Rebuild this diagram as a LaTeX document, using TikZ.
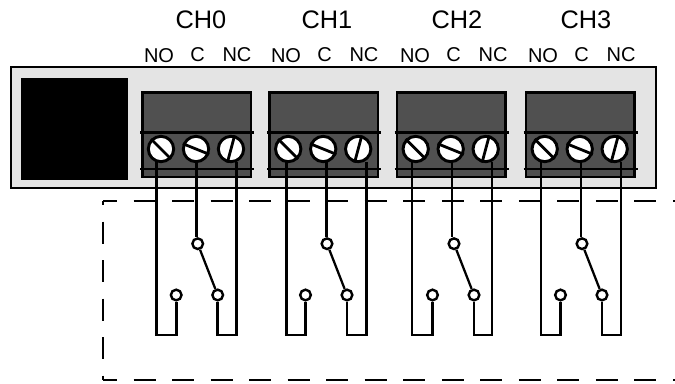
\documentclass[tikz,border=0pt]{standalone}
\usepackage{fontspec}
\setmainfont{Liberation Sans}
\usepackage{xcolor}
\definecolor{panelgray}{HTML}{E4E4E4}
\definecolor{blockgray}{HTML}{505050}
\tikzset{
    panel/.style={draw, fill=panelgray, line width=1.5pt, rectangle, inner sep=0pt, minimum width=484pt, minimum height=91pt},
    relaybox/.style={fill=black, rectangle, inner sep=0pt, minimum width=80pt, minimum height=76.5pt},
    terminal/.style={draw, fill=blockgray, line width=2pt, rectangle, inner sep=0pt, minimum width=81.5pt, minimum height=63.5pt},
    screw/.style={circle, draw, fill=white, line width=2.2pt, inner sep=0pt, minimum size=19pt},
    contact/.style={circle, draw, fill=white, line width=1.8pt, inner sep=0pt, minimum size=8pt},
    wire/.style={line width=2.1pt},
    arm/.style={line width=1.7pt},
    boundary/.style={line width=1.2pt, dash pattern=on 16.5pt off 12.4pt},
    chlabel/.style={font=\fontsize{19}{21}\selectfont, inner sep=0pt},
    pinlabel/.style={font=\fontsize{15}{17}\selectfont, inner sep=0pt}
}
\begin{document}
\begin{tikzpicture}[x=0.75pt, y=-0.75pt]
        \useasboundingbox (0, 0) rectangle (675, 383);
        % Draw the panel
        \node [panel] (board) at (333.5, 127.8) {};
        \node [relaybox] (relay) at (74.5, 129) {};
        % Dashed boundary
        \coordinate (cornerA) at (103, 201);
        \coordinate (cornerB) at (103, 380);
        \coordinate (endA) at (675, 201);
        \coordinate (endB) at (675, 380);
        \draw [boundary, dash phase=6pt] (cornerA) -- (endA);
        \draw [boundary, dash phase=6pt] (cornerB) -- (endB);
        \draw [boundary, dash phase=13.5pt] (cornerA) -- (cornerB);
        % Channels
        \foreach \i/\bx/\wx/\kx/\hx/\nx in {0/142.3/156.7/197.7/201/159, 1/269.5/286.7/327/327/286, 2/397/412/454/457/415, 3/526/541/582/586/543} {
            \node [chlabel] (ch\i) at (\hx, 19.5) {CH\i};
            \node [pinlabel] (no\i) at (\nx, 55.5) {NO};
            \node [pinlabel] (c\i) at (\nx+38.5, 55) {C};
            \node [pinlabel] (nc\i) at (\nx+78, 55) {NC};
            % Terminal block
            \node [terminal] (block\i) at (\bx+54.2, 134.7) {};
            \draw [line width=2pt] (\bx-2.3, 132.3) -- (\bx+111.5, 132.3);
            \draw [line width=1.5pt] (\bx-2.3, 169) -- (\bx+111.5, 169);
            % Lines
            \coordinate (wireno\i) at (\wx, 162);
            \coordinate (wirec\i) at (\wx+40, 162);
            \coordinate (wirenc\i) at (\wx+80, 162);
            \coordinate (botno\i) at (\wx, 335);
            \coordinate (botnc\i) at (\wx+80, 335);
            \node [contact] (common\i) at (\kx, 243.7) {};
            \node [contact] (open\i) at (\kx-21.5, 295) {};
            \node [contact] (closed\i) at (\kx+20, 295) {};
            \draw [wire] (wireno\i) -- (botno\i) -| (open\i);
            \draw [wire] (wirenc\i) -- (botnc\i) -| (closed\i);
            \draw [wire] (wirec\i) -- (wirec\i |- common\i.north);
            \draw [arm] (common\i) -- (closed\i);
            % Screws
            \node [screw] (sno\i) at (\bx+18.7, 149) {};
            \node [screw] (sc\i) at (\bx+53.7, 149) {};
            \node [screw] (snc\i) at (\bx+88.7, 149) {};
            \draw [wire] (sno\i.135) -- (sno\i.-45);
            \draw [wire] (sc\i.158) -- (sc\i.-22);
            \draw [wire] (snc\i.75) -- (snc\i.-105);
        }
    \end{tikzpicture}
\end{document}
